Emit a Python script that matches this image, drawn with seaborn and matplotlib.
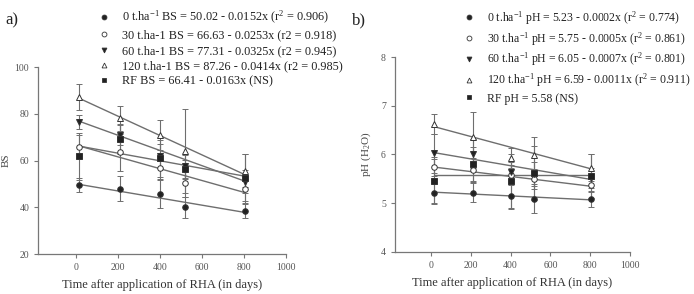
import numpy as np
import pandas as pd
import matplotlib
matplotlib.use("Agg")
import matplotlib.pyplot as plt
from matplotlib.lines import Line2D
import seaborn as sns

sns.set_style("ticks")
plt.rcParams['font.family'] = ['Liberation Serif', 'DejaVu Serif']
plt.rcParams['mathtext.fontset'] = 'custom'
plt.rcParams['mathtext.rm'] = 'Liberation Serif'
plt.rcParams['mathtext.it'] = 'Liberation Serif:italic'

# sampling times (days)
days = [15, 210, 400, 520, 805]
doses = ['0', '30', '60', '120', 'RF']

# base saturation (BS)
bs_mean = {
    '0':   [49.4, 48.0, 45.5, 40.0, 38.3],
    '30':  [66.0, 63.5, 57.0, 50.2, 47.7],
    '60':  [76.6, 71.0, 62.0, 57.5, 51.0],
    '120': [87.3, 78.0, 70.8, 64.0, 55.6],
    'RF':  [61.8, 69.0, 60.9, 56.2, 52.6],
}
bs_err = {
    '0':   [3.0, 5.5, 6.0, 4.5, 3.0],
    '30':  [5.0, 8.0, 5.0, 6.0, 6.0],
    '60':  [3.0, 4.5, 5.0, 5.0, 5.0],
    '120': [5.5, 5.5, 6.5, 18.0, 7.0],
    'RF':  [10.0, 6.0, 8.0, 4.0, 10.0],
}
bs_fit = {'0': (50.02, 0.0152), '30': (66.63, 0.0253), '60': (77.31, 0.0325),
          '120': (87.26, 0.0414), 'RF': (66.41, 0.0163)}

# pH (H2O)
ph_mean = {
    '0':   [5.21, 5.22, 5.14, 5.09, 5.08],
    '30':  [5.75, 5.68, 5.58, 5.50, 5.38],
    '60':  [6.03, 6.02, 5.65, 5.60, 5.52],
    '120': [6.63, 6.35, 5.93, 5.98, 5.73],
    'RF':  [5.45, 5.80, 5.45, 5.62, 5.55],
}
ph_err = {
    '0':   [0.22, 0.20, 0.25, 0.30, 0.15],
    '30':  [0.20, 0.25, 0.20, 0.20, 0.12],
    '60':  [0.40, 0.30, 0.20, 0.25, 0.20],
    '120': [0.20, 0.52, 0.20, 0.38, 0.28],
    'RF':  [0.45, 0.35, 0.55, 0.55, 0.45],
}
ph_fit = {'0': (5.23, 0.0002), '30': (5.75, 0.0005), '60': (6.05, 0.0007),
          '120': (6.59, 0.0011), 'RF': (5.58, 0.0)}

bs_labels = [
    '0 t.ha$^{\\mathrm{-1}}$ BS = 50.02 - 0.0152x (r$^{\\mathrm{2}}$ = 0.906)',
    '30 t.ha-1 BS = 66.63 - 0.0253x (r2 = 0.918)',
    '60 t.ha-1 BS = 77.31 - 0.0325x (r2 = 0.945)',
    '120 t.ha-1 BS = 87.26 - 0.0414x (r2 = 0.985)',
    'RF BS = 66.41 - 0.0163x (NS)',
]
ph_labels = [
    '0 t.ha$^{\\mathrm{-1}}$ pH = 5.23 - 0.0002x (r$^{\\mathrm{2}}$ = 0.774)',
    '30 t.ha$^{\\mathrm{-1}}$ pH = 5.75 - 0.0005x (r$^{\\mathrm{2}}$ = 0.861)',
    '60 t.ha$^{\\mathrm{-1}}$ pH = 6.05 - 0.0007x (r$^{\\mathrm{2}}$ = 0.801)',
    '120 t.ha$^{\\mathrm{-1}}$ pH = 6.59 - 0.0011x (r$^{\\mathrm{2}}$ = 0.911)',
    'RF pH = 5.58 (NS)',
]

markers = {'0': 'o', '30': 'o', '60': 'v', '120': '^', 'RF': 's'}
faces = {'0': '#222222', '30': 'white', '60': '#222222', '120': 'white', 'RF': '#222222'}
msize = {'0': 4, '30': 4, '60': 4, '120': 4, 'RF': 4.5}
dark = '#333333'
grey = '#6e6e6e'

fig = plt.figure(figsize=(6.94, 2.94), dpi=100)
ax1 = fig.add_axes([0.055, 0.136, 0.357, 0.636])
ax2 = fig.add_axes([0.569, 0.143, 0.339, 0.663])


def draw(ax, mean, err, fit):
    for d in doses:
        a, b = fit[d]
        xs = np.array([days[0], days[-1]])
        line = pd.DataFrame({'x': xs, 'y': a - b * xs})
        sns.lineplot(data=line, x='x', y='y', ax=ax, color=grey, lw=1.0, zorder=2)
        ax.errorbar(days, mean[d], yerr=err[d], fmt=markers[d], ms=msize[d],
                    mfc=faces[d], mec=dark, mew=0.7, ecolor=grey, elinewidth=0.8,
                    capsize=2.5, capthick=0.8, zorder=3)
    ax.set_xlim(-180, 1000)
    ax.set_xticks([0, 200, 400, 600, 800, 1000])
    sns.despine(ax=ax)
    for s in ['left', 'bottom']:
        ax.spines[s].set_color('#777777')
        ax.spines[s].set_linewidth(0.9)
    ax.tick_params(labelsize=7, colors='#777777', labelcolor='#555555',
                   length=3, width=0.8, direction='out')
    ax.set_xlabel('Time after application of RHA (in days)', fontsize=9,
                  color='#333333', labelpad=5)


draw(ax1, bs_mean, bs_err, bs_fit)
ax1.set_ylim(20, 100)
ax1.set_yticks([20, 40, 60, 80, 100])
ax1.set_ylabel('BS', fontsize=8, color='#444444')
ax1.yaxis.set_label_coords(-0.11, 0.5)

draw(ax2, ph_mean, ph_err, ph_fit)
ax2.set_ylim(4, 8)
ax2.set_yticks([4, 5, 6, 7, 8])
ax2.set_ylabel('pH (H$_{\\mathrm{2}}$O)', fontsize=8, color='#444444')
ax2.yaxis.set_label_coords(-0.095, 0.5)

handles = [Line2D([], [], ls='none', marker=markers[d], ms=3.5, mfc=faces[d],
                  mec=dark, mew=0.6) for d in doses]
leg_kw = dict(frameon=False, labelspacing=0.28, handlelength=1.0,
              handletextpad=1.0, borderaxespad=0, borderpad=0, loc='upper left')
fig.legend(handles, bs_labels, bbox_to_anchor=(98 / 694, 1 - 9 / 294),
           labelcolor='#222222', fontsize=8.8, **leg_kw)
fig.legend(handles, ph_labels, bbox_to_anchor=(463 / 694, 1 - 9 / 294),
           labelcolor='#222222', fontsize=8.5, **leg_kw)

fig.text(5 / 694, 1 - 24 / 294, 'a)', fontsize=12, color='#222222')
fig.text(352 / 694, 1 - 24 / 294, 'b)', fontsize=12, color='#222222')

fig.savefig('out.png', dpi=100)
